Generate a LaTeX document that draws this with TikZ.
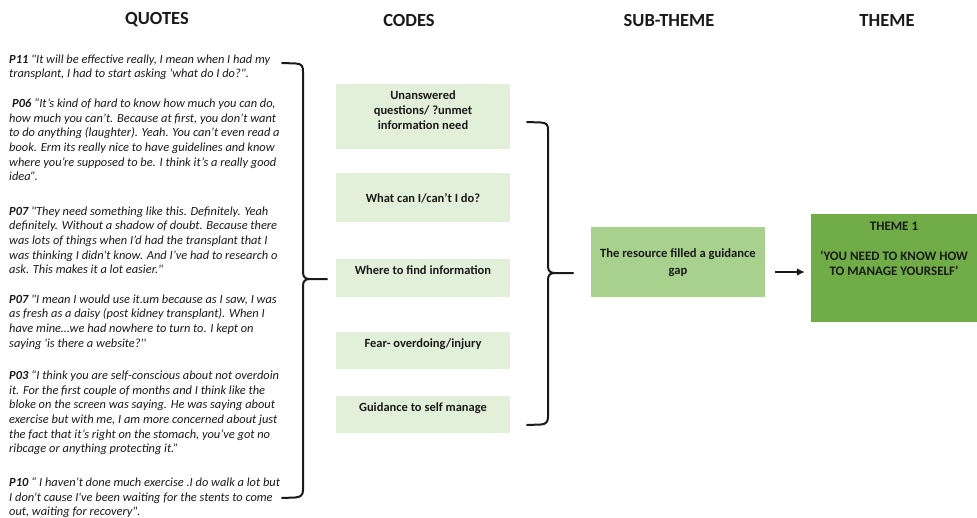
\documentclass[tikz,border=0pt]{standalone}
\usepackage{fontspec}
\setmainfont{Carlito}[Ligatures=TeXOff]
\usetikzlibrary{positioning,arrows.meta}
\definecolor{codegreen}{HTML}{E2F0D9}
\definecolor{subgreen}{HTML}{A9D18E}
\definecolor{themegreen}{HTML}{70AD47}
\definecolor{ink}{HTML}{1A1A1A}

\begin{document}
\begin{tikzpicture}[x=1pt,y=-1pt,
	head/.style={font=\fontsize{18.5}{22}\selectfont\bfseries, text=ink},
	quotetext/.style={anchor=north west, inner sep=0pt, align=left, text=ink,
		font=\fontsize{12.4}{14.6}\selectfont\itshape},
	codebox/.style={fill=codegreen, minimum width=174pt, inner sep=0pt},
	codetext/.style={font=\fontsize{12.5}{15}\selectfont\bfseries, align=center,
		inner sep=0pt, anchor=north, text=ink},
	brace/.style={line width=2pt, line cap=round, line join=round, ink}]
	\useasboundingbox (0,0) rectangle (977,517);
	
	% headings
	\node[head] (hquotes) at (157,20) {QUOTES};
	\node[head] (hcodes) at (409,20) {CODES};
	\node[head] (hsub) at (669,20) {SUB-THEME};
	\node[head] (htheme) at (887,20) {THEME};
	
	% quotes (cut at the right edge)
	\begin{scope}
		\clip (0,40) rectangle (283,517);
		\node[quotetext] (p11) at (9,54.5) {\textbf{P11} "It will be effective really, I mean when I had my\\
			transplant, I had to start asking 'what do I do?".};
		\node[quotetext] (p06) at (9,98.5) {\hspace{3pt}\textbf{P06} “It’s kind of hard to know how much you can do,\\
			how much you can’t. Because at first, you don’t want\\
			to do anything (laughter). Yeah. You can’t even read a\\
			book. Erm its really nice to have guidelines and know\\
			where you’re supposed to be. I think it’s a really good\\
			idea”.};
		\node[quotetext] (p07a) at (9,206.5) {\textbf{P07} "They need something like this. Definitely. Yeah\\
			definitely. Without a shadow of doubt. Because there\\
			was lots of things when I’d had the transplant that I\\
			was thinking I didn't know. And I’ve had to research o\\
			ask. This makes it a lot easier."};
		\node[quotetext] (p07b) at (9,294.5) {\textbf{P07} "I mean I would use it.um because as I saw, I was\\
			as fresh as a daisy (post kidney transplant). When I\\
			have mine…we had nowhere to turn to. I kept on\\
			saying 'is there a website?''};
		\node[quotetext] (p03) at (9,370.5) {\textbf{P03} “I think you are self-conscious about not overdoin\\
			it. For the first couple of months and I think like the\\
			bloke on the screen was saying. He was saying about\\
			exercise but with me, I am more concerned about just\\
			the fact that it’s right on the stomach, you’ve got no\\
			ribcage or anything protecting it.”};
		\node[quotetext] (p10) at (9,477.5) {\textbf{P10} “ I haven’t done much exercise .I do walk a lot but\\
			I don't cause I've been waiting for the stents to come\\
			out, waiting for recovery".};
	\end{scope}
	
	% brace: quotes -> codes
	\draw[brace] (282,63) -- (296,63.5) .. controls (302,64) and (303,66) .. (303,72)
		-- (303,272) .. controls (303,277) and (305,279) .. (310,279) -- (327,279);
	\draw[brace] (310,279) .. controls (305,279) and (303,281) .. (303,286)
		-- (303,490) .. controls (303,495) and (301,497) .. (295,497.5) -- (282,498);
	
	% codes
	\node[codebox, minimum height=65pt] (unmet) at (423,116.5) {};
	\node[codetext, below=7pt of unmet.north] (unmettxt) {Unanswered\\questions/ ?unmet\\information need};
	\node[codebox, minimum height=49pt] (cando) at (423,197.5) {};
	\node[codetext, below=20.5pt of cando.north] (candotxt) {What can I/can’t I do?};
	\node[codebox, minimum height=38pt] (findinfo) at (423,278) {};
	\node[codetext, below=7pt of findinfo.north] (findinfotxt) {Where to find information};
	\node[codebox, minimum height=37pt] (fear) at (423,350.5) {};
	\node[codetext, below=6.5pt of fear.north] (feartxt) {Fear- overdoing/injury};
	\node[codebox, minimum height=37pt] (selfman) at (423,414.5) {};
	\node[codetext, below=6.5pt of selfman.north] (selfmantxt) {Guidance to self manage};
	
	% brace: codes -> sub-theme
	\draw[brace] (527,122) -- (541,122.5) .. controls (547,123) and (548,125) .. (548,130)
		-- (548,266) .. controls (548,271) and (550,273) .. (555,273) -- (573,273);
	\draw[brace] (555,273) .. controls (550,273) and (548,275) .. (548,280)
		-- (548,417) .. controls (548,422) and (546,424) .. (541,424.5) -- (527,425);
	
	% sub-theme and theme
	\node[fill=subgreen, minimum width=174pt, minimum height=70pt] (subtheme) at (678,262) {};
	\node[codetext, below=22pt of subtheme.north, font=\fontsize{12.6}{16.5}\selectfont\bfseries] (subtxt) {The resource filled a guidance\\gap};
	\node[fill=themegreen, minimum width=166pt, minimum height=108pt] (theme) at (894,268) {};
	\node[codetext, below=8.5pt of theme.north, font=\fontsize{13}{15}\selectfont\bfseries] (themetxt) {THEME 1\\[15pt]‘YOU NEED TO KNOW HOW\\TO MANAGE YOURSELF’};
	
	\draw[line width=2pt, ink, -{Latex[length=8pt,width=8pt]}, shorten <=10pt, shorten >=6pt]
		([yshift=-10pt]subtheme.east) -- ([yshift=-10pt]subtheme.east -| theme.west);
\end{tikzpicture}
\end{document}
